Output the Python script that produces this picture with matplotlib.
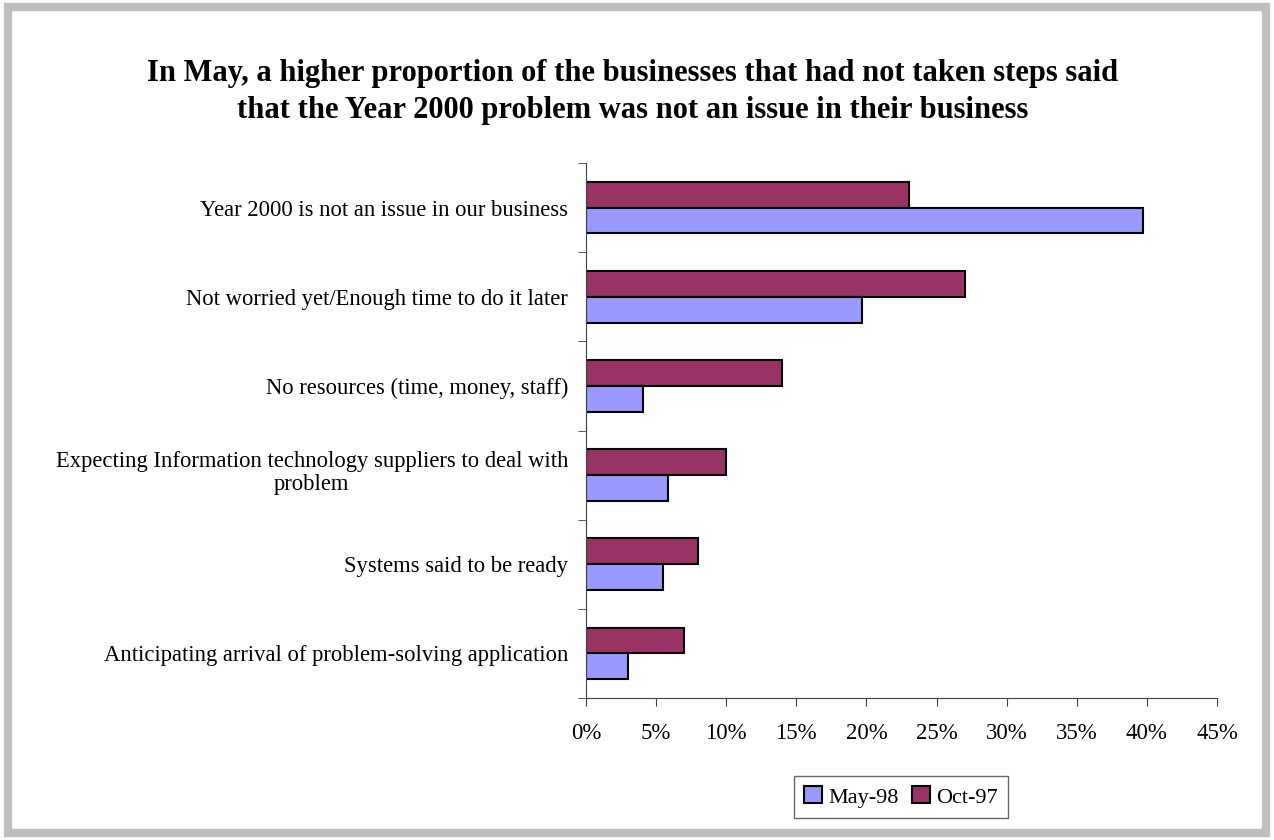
import numpy as np
import matplotlib.pyplot as plt
import matplotlib.transforms as mtransforms
from matplotlib.patches import Rectangle
from matplotlib.ticker import FuncFormatter

categories = ['Year 2000 is not an issue in our business',
              'Not worried yet/Enough time to do it later',
              'No resources (time, money, staff)',
              'Expecting Information technology suppliers to deal with\nproblem',
              'Systems said to be ready',
              'Anticipating arrival of problem-solving application']
may98 = [39.7, 19.7, 4.1, 5.85, 5.5, 3.0]
oct97 = [23.0, 27.0, 14.0, 10.0, 8.0, 7.0]

plt.rcParams['font.family'] = ['Liberation Serif', 'DejaVu Serif']

fig = plt.figure(figsize=(12.74, 8.4), dpi=100)
# grey outer frame
fig.patches.append(Rectangle((0.0065, 0.0085), 0.987, 0.983, transform=fig.transFigure,
                             fill=False, edgecolor='#c0c0c0', linewidth=6))

ax = fig.add_axes([586/1274, 1-698/840, (1217-586)/1274, (698-163)/840])

y = np.arange(len(categories))
h = 0.29
ax.barh(y - h/2, oct97, height=h, color='#993366', edgecolor='black', linewidth=1.5, label='Oct-97')
ax.barh(y + h/2, may98, height=h, color='#9999ff', edgecolor='black', linewidth=1.5, label='May-98')

ax.set_ylim(len(categories) - 0.5, -0.5)
ax.set_xlim(0, 45)
ax.set_xticks(np.arange(0, 46, 5))
ax.xaxis.set_major_formatter(FuncFormatter(lambda v, p: '%d%%' % v))
ax.set_yticks(y)
ax.set_yticklabels(categories)
ax.set_yticks(np.arange(-0.5, len(categories)), minor=True)
ax.tick_params(axis='y', which='major', length=0, labelsize=16.3, pad=13)
ax.tick_params(axis='y', which='minor', length=6, direction='out', color='#404040')
ax.tick_params(axis='x', length=6, direction='out', labelsize=16.5, pad=12, color='#404040')
for lbl in ax.get_yticklabels():
    lbl.set_multialignment('center')
    lbl.set_linespacing(1.15)
    if '\n' in lbl.get_text():
        # two-line label sits a bit higher in the original
        lbl.set_transform(lbl.get_transform() +
                          mtransforms.ScaledTranslation(0, 6/100, fig.dpi_scale_trans))

for s in ['top', 'right']:
    ax.spines[s].set_visible(False)
ax.spines['left'].set_color('#404040')
ax.spines['bottom'].set_color('#404040')

fig.text(0.4965, 1-92/840, 'In May, a higher proportion of the businesses that had not taken steps said\n'
         'that the Year 2000 problem was not an issue in their business',
         ha='center', va='center', fontsize=22, fontweight='bold', linespacing=1.35)

handles, labels = ax.get_legend_handles_labels()
fig.legend(handles[::-1], labels[::-1], loc='center', bbox_to_anchor=(901/1274, 1-797/840),
           ncol=2, frameon=True, fancybox=False, edgecolor='#404040', fontsize=16,
           handlelength=0.8, handleheight=0.8, handletextpad=0.3, columnspacing=0.6,
           borderpad=0.45)

fig.savefig('out.png', dpi=100, facecolor='white')
